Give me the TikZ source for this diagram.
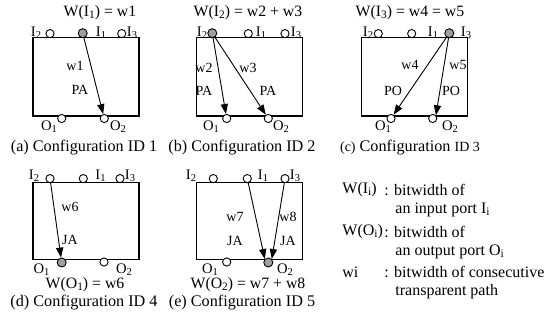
\documentclass[tikz,border=0pt]{standalone}
\usepackage{fontspec}
\setmainfont{Liberation Serif}
\usetikzlibrary{positioning,arrows.meta,calc}

\newcommand{\ix}[2]{#1\raisebox{-0.25ex}{\scalebox{0.72}{#2}}}

\begin{document}
\begin{tikzpicture}[x=0.5pt, y=-0.5pt,
  box/.style={line width=0.65pt},
  port/.style={circle, draw, line width=0.45pt, inner sep=0pt, minimum size=4.1pt, fill=white},
  hot/.style={port, fill=gray!75, minimum size=4.5pt},
  flow/.style={line width=0.45pt, -{Triangle[length=5pt, width=3.6pt]}},
  plbl/.style={inner sep=0pt, font=\fontsize{7.3}{8}\selectfont},
  wlbl/.style={inner sep=0pt, font=\fontsize{7}{8}\selectfont},
  ttl/.style={inner sep=0pt, font=\fontsize{7.9}{9}\selectfont},
  capt/.style={inner sep=0pt, font=\fontsize{8.1}{9}\selectfont},
  leg/.style={inner sep=0pt, anchor=west, font=\fontsize{8}{9}\selectfont}]
\useasboundingbox (0,0) rectangle (548,327);

% (a) configuration ID 1
\draw[box] (33,37.7) rectangle (139,116);
\node[port] (a-i2) at (50,33.6) {};
\node[hot]  (a-i1) at (82.7,33.2) {};
\node[port] (a-i3) at (121.7,33.6) {};
\node[port] (a-o1) at (61.7,118.5) {};
\node[port] (a-o2) at (104.3,118.5) {};
\draw[flow] (a-i1) -- (a-o2);
\node[plbl] at (36,33) {\ix{I}{2}};
\node[plbl] at (101,33) {\ix{I}{1}};
\node[plbl] at (132,33) {\ix{I}{3}};
\node[plbl] at (49,127) {\ix{O}{1}};
\node[plbl] at (118,127) {\ix{O}{2}};
\node[wlbl] at (75,66) {w1};
\node[wlbl] at (80,90) {PA};
\node[ttl] at (100,13) {W(\ix{I}{1}) = w1};
\node[capt] at (84,148) {(a) Configuration ID 1};

% (b) configuration ID 2
\draw[box] (196.7,37.7) rectangle (302.3,116);
\node[hot]  (b-i2) at (212.3,33.2) {};
\node[port] (b-i1) at (248.3,33.6) {};
\node[port] (b-i3) at (285,33.6) {};
\node[port] (b-o1) at (226.7,118.5) {};
\node[port] (b-o2) at (268.3,118.5) {};
\draw[flow] (b-i2) -- (b-o1);
\draw[flow] (b-i2) -- (b-o2);
\node[plbl] at (202,33) {\ix{I}{2}};
\node[plbl] at (261,33) {\ix{I}{1}};
\node[plbl] at (296,33) {\ix{I}{3}};
\node[plbl] at (211,127) {\ix{O}{1}};
\node[plbl] at (281,127) {\ix{O}{2}};
\node[wlbl] at (204,68) {w2};
\node[wlbl] at (248,68) {w3};
\node[wlbl] at (204,91) {PA};
\node[wlbl] at (268,91) {PA};
\node[ttl] at (248,13) {W(\ix{I}{2}) = w2 + w3};
\node[capt] at (242,148) {(b) Configuration ID 2};

% (c) configuration ID 3
\draw[box] (361.7,37.7) rectangle (467.3,116);
\node[port] (c-i2) at (378.3,33.6) {};
\node[port] (c-i1) at (411.7,33.6) {};
\node[hot]  (c-i3) at (449.3,33.2) {};
\node[port] (c-o1) at (391,118.5) {};
\node[port] (c-o2) at (432.7,118.5) {};
\draw[flow] (c-i3) -- (c-o1);
\draw[flow] (c-i3) -- (c-o2.north east);
\node[plbl] at (368,33) {\ix{I}{2}};
\node[plbl] at (433,33) {\ix{I}{1}};
\node[plbl] at (466,33) {\ix{I}{3}};
\node[plbl] at (383,127) {\ix{O}{1}};
\node[plbl] at (450,127) {\ix{O}{2}};
\node[wlbl] at (410,65) {w4};
\node[wlbl] at (458,65) {w5};
\node[wlbl] at (393,91) {PO};
\node[wlbl] at (451,91) {PO};
\node[ttl] at (410,13) {W(\ix{I}{3}) = w4 = w5};
\node[capt] at (410,148) {{\fontsize{7}{8}\selectfont(c)} Configuration {\fontsize{7}{8}\selectfont ID 3}};

% (d) configuration ID 4
\draw[box] (33,182.7) rectangle (139,259.3);
\node[port] (d-i2) at (50,178.6) {};
\node[port] (d-i1) at (83.3,178.6) {};
\node[port] (d-i3) at (120,178.6) {};
\node[hot]  (d-o1) at (61.7,262.5) {};
\node[port] (d-o2) at (104,262) {};
\draw[flow] (d-i2) -- (d-o1);
\node[plbl] at (34,176) {\ix{I}{2}};
\node[plbl] at (100.5,176) {\ix{I}{1}};
\node[plbl] at (130,176) {\ix{I}{3}};
\node[plbl] at (41.5,270) {\ix{O}{1}};
\node[plbl] at (124,270) {\ix{O}{2}};
\node[wlbl] at (70,207) {w6};
\node[wlbl] at (70,240) {JA};
\node[ttl] at (85,285) {W(\ix{O}{1}) = w6};
\node[capt] at (84,303) {(d) Configuration ID 4};

% (e) configuration ID 5
\draw[box] (196.7,182.7) rectangle (302.3,259.3);
\node[port] (e-i2) at (213.3,178.6) {};
\node[port] (e-i1) at (247.3,178.6) {};
\node[port] (e-i3) at (285,178.6) {};
\node[port] (e-o1) at (226.7,262) {};
\node[hot]  (e-o2) at (268.3,262.5) {};
\draw[flow] (e-i1) -- (e-o2.north west);
\draw[flow] (e-i3) -- (e-o2.north east);
\node[plbl] at (191,176) {\ix{I}{2}};
\node[plbl] at (263,176) {\ix{I}{1}};
\node[plbl] at (295,176) {\ix{I}{3}};
\node[plbl] at (210,270) {\ix{O}{1}};
\node[plbl] at (285,270) {\ix{O}{2}};
\node[wlbl] at (235,217) {w7};
\node[wlbl] at (288,217) {w8};
\node[wlbl] at (235,241) {JA};
\node[wlbl] at (288,241) {JA};
\node[ttl] at (248,285) {W(\ix{O}{2}) = w7 + w8};
\node[capt] at (242,303) {(e) Configuration ID 5};

% legend
\node[leg] at (342,190) {W(\ix{I}{i})};
\node[leg] at (384,190) {: bitwidth of};
\node[leg] at (395,210) {an input port \ix{I}{i}};
\node[leg] at (342,232) {W(\ix{O}{i})};
\node[leg] at (384,232) {: bitwidth of};
\node[leg] at (395,252) {an output port \ix{O}{i}};
\node[leg] at (342,272) {wi};
\node[leg] at (384,272) {: bitwidth of consecutive};
\node[leg] at (395,292) {transparent path};
\end{tikzpicture}
\end{document}
